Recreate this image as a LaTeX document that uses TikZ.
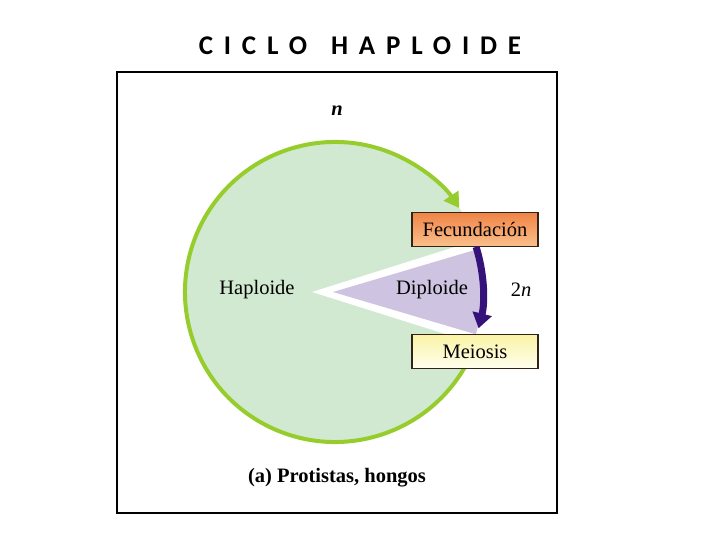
\documentclass[tikz,border=0pt]{standalone}
\usepackage{fontspec}
\setmainfont{Liberation Serif}
\newfontfamily\titlefont[LetterSpace=40]{Carlito}
\usetikzlibrary{arrows.meta}
\definecolor{cfill}{RGB}{209,233,208}
\definecolor{cline}{RGB}{150,205,45}
\definecolor{pfill}{RGB}{206,196,226}
\definecolor{parrow}{RGB}{52,18,122}
\definecolor{fectop}{RGB}{240,132,70}
\definecolor{fecbot}{RGB}{250,192,140}
\definecolor{meitop}{RGB}{250,243,165}
\definecolor{meibot}{RGB}{255,255,238}
\definecolor{boxline}{RGB}{50,35,25}
\tikzset{
  lbl/.style={inner sep=0pt, font=\fontsize{20.5}{24}\selectfont},
  stagebox/.style={draw=boxline, line width=1.2pt, minimum width=126pt, minimum height=34pt, inner sep=0pt, outer sep=0pt, font=\fontsize{20.5}{24}\selectfont},
  cyclearrow/.style={draw=cline, line width=4pt, -{Triangle[length=15pt,width=17pt]}},
  diparrow/.style={draw=parrow, line width=7pt, -{Triangle[length=15pt,width=19pt]}}
}
\begin{document}
\begin{tikzpicture}[x=1pt,y=1pt]
\useasboundingbox (0,0) rectangle (720,540);
% title
\node[inner sep=0pt, font=\titlefont\bfseries\fontsize{27}{30}\selectfont] (title) at (360,494) {CICLO\hspace{24pt}HAPLOIDE};
% frame
\draw[line width=1.4pt] (117,27) rectangle (557,468);
% circle
\coordinate (cc) at (335,248);
\coordinate (pc) at (333,248);
\coordinate (wc) at (312,248);
\fill[cfill] (cc) circle[radius=150];
% white gap wedge
\fill[white] (wc) -- ++(17.5:178) arc[start angle=17.5, end angle=-17.5, radius=178] -- cycle;
% diploid sector
\fill[pfill] (pc) -- ++(16.5:149) arc[start angle=16.5, end angle=-16.5, radius=149] -- cycle;
% green cycle arrow
\draw[cyclearrow] (cc) ++(-25:150) arc[start angle=-25, end angle=-326, radius=150];
% boxes
\node[stagebox, top color=fectop, bottom color=fecbot] (fec) at (475,310.5) {Fecundación};
\node[stagebox, top color=meitop, bottom color=meibot] (mei) at (475,188.5) {Meiosis};
% diploid arrow
\draw[diparrow] (pc) ++(17.5:150) arc[start angle=17.5, end angle=-14, radius=150];
% labels
\node[lbl, font=\fontsize{20.5}{24}\selectfont\bfseries\itshape] (n) at (337,429) {n};
\node[lbl] (hap) at (257,250) {Haploide};
\node[lbl] (dip) at (432,250) {Diploide};
\node[lbl] (dn) at (521,250) {2\textit{n}};
\node[lbl, font=\fontsize{20.5}{24}\selectfont\bfseries] (cap) at (337,62) {(a) Protistas, hongos};
\end{tikzpicture}
\end{document}
